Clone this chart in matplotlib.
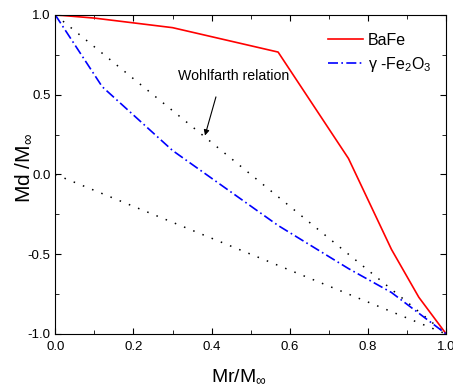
import matplotlib.pyplot as plt
from matplotlib.ticker import MultipleLocator

plt.rcParams['font.family'] = ['Liberation Sans', 'DejaVu Sans']
plt.rcParams['mathtext.fontset'] = 'custom'
plt.rcParams['mathtext.rm'] = 'Liberation Sans'
plt.rcParams['mathtext.it'] = 'Liberation Sans'

# data
bafe_x = [0.0, 0.1, 0.3, 0.57, 0.75, 0.86, 0.93, 1.0]
bafe_y = [1.0, 0.98, 0.92, 0.767, 0.10, -0.47, -0.77, -1.0]

gfe_x = [0.0, 0.12, 0.3, 0.57, 0.75, 0.86, 1.0]
gfe_y = [1.0, 0.55, 0.15, -0.32, -0.59, -0.74, -1.0]

wohl_x = [0.0, 1.0]
wohl_y = [1.0, -1.0]
low_x = [0.0, 1.0]
low_y = [0.0, -1.0]

fig = plt.figure(figsize=(4.53, 3.92), dpi=100)
ax = fig.add_axes([0.122, 0.148, 0.863, 0.814])

ax.plot(wohl_x, wohl_y, color='black', lw=1.1, linestyle=(0, (1, 5.5)))
ax.plot(low_x, low_y, color='black', lw=1.1, linestyle=(0, (1, 5.5)))
ax.plot(bafe_x, bafe_y, color='red', lw=1.2, label='BaFe')
ax.plot(gfe_x, gfe_y, color='blue', lw=1.2, linestyle=(0, (6, 2, 1, 2)),
        label=r'$\gamma$ -Fe$_2$O$_3$')

ax.text(0.314, 0.62, 'Wohlfarth relation', fontsize=10.2, va='center', ha='left')
ax.annotate('', xy=(0.383, 0.244), xytext=(0.411, 0.486),
            arrowprops=dict(arrowstyle='-|>', color='black', lw=0.8,
                            shrinkA=0, shrinkB=0, mutation_scale=8))

ax.set_xlim(0, 1)
ax.set_ylim(-1, 1)
ax.xaxis.set_major_locator(MultipleLocator(0.2))
ax.xaxis.set_minor_locator(MultipleLocator(0.1))
ax.yaxis.set_major_locator(MultipleLocator(0.5))
ax.yaxis.set_minor_locator(MultipleLocator(0.25))
ax.tick_params(which='both', direction='in', top=True, right=True, labelsize=9.5)
ax.tick_params(which='major', length=4)
ax.tick_params(which='minor', length=3)
ax.tick_params(axis='x', pad=5)
ax.xaxis.set_major_formatter(plt.FuncFormatter(lambda v, p: f'{v:.1f}'))
ax.yaxis.set_major_formatter(plt.FuncFormatter(lambda v, p: f'{v:.1f}'))

ax.set_xlabel(r'Mr/M$_\infty$', fontsize=14)
ax.set_ylabel(r'Md /M$_\infty$', fontsize=15)
ax.xaxis.set_label_coords(0.47, -0.105)
ax.yaxis.set_label_coords(-0.055, 0.52)

ax.legend(loc='upper right', bbox_to_anchor=(1.015, 1.009), frameon=False,
          fontsize=11.5, handlelength=2.2, handletextpad=0.3,
          borderaxespad=0.9, labelspacing=0.45)

fig.savefig('out.png', dpi=100)
